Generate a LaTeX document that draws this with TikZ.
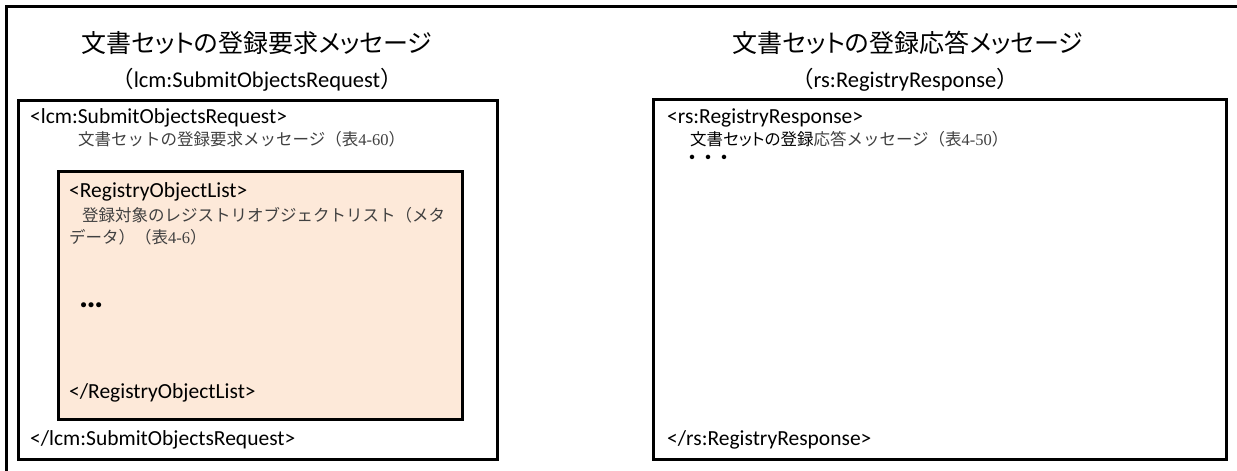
\documentclass[tikz,border=0pt]{standalone}
\usepackage{fontspec}
\setmainfont{Carlito}
\newfontfamily\jp{Noto Sans CJK JP}
\newfontfamily\jpt{Noto Sans CJK JP}[RawFeature=+palt]
\newfontfamily\numf{Liberation Serif}
\definecolor{peach}{HTML}{FDE9D9}
\definecolor{mincho}{HTML}{404040}
\tikzset{
  framebox/.style={draw=black, line width=3pt, inner sep=0pt, anchor=north west},
  titletext/.style={font=\jpt\fontsize{25}{29}\selectfont, inner sep=0pt},
  subtitletext/.style={font=\fontsize{22.5}{26}\selectfont, inner sep=0pt},
  tagtext/.style={anchor=west, inner sep=0pt, font=\fontsize{21.5}{25}\selectfont},
  desctext/.style={anchor=west, inner sep=0pt, text=mincho, font=\jp\fontsize{16.5}{19}\selectfont},
}
\begin{document}
\begin{tikzpicture}[x=1pt,y=-1pt]
\useasboundingbox (0,0) rectangle (1237,471);
\coordinate (fbl) at (6,471);
\coordinate (ftl) at (6,6);
\coordinate (ftr) at (1237,6);
\draw[line width=3pt] (fbl) -- (ftl) -- (ftr);

% titles
\node[titletext] (t1) at (257,43) {文書セットの登録要求メッセージ};
\node[subtitletext] (t1b) at (257,80) {{\jp （}lcm:SubmitObjectsRequest{\jp ）}};
\node[titletext] (t2) at (908,43) {文書セットの登録応答メッセージ};
\node[subtitletext] (t2b) at (905,80) {{\jp （}rs:RegistryResponse{\jp ）}};

% left box
\node[framebox, fill=white, minimum width=479pt, minimum height=359pt] (req) at (17,99) {};
\node[tagtext] (reqopen) at (30,118) {<lcm:SubmitObjectsRequest>};
\node[desctext] (reqdesc) at (78,139) {文書セットの登録要求メッセージ（表{\numf 4-60}）};
\node[framebox, fill=peach, minimum width=404pt, minimum height=248pt] (rol) at (57,170) {};
\node[tagtext] (rolopen) at (69,192) {<RegistryObjectList>};
\node[desctext] (roldesc1) at (82,215) {登録対象のレジストリオブジェクトリスト（メタ};
\node[desctext] (roldesc2) at (69,237) {データ）（表{\numf 4-6}）};
\node[tagtext, font=\bfseries\fontsize{34}{36}\selectfont] (roldots) at (79,305) {…};
\node[tagtext] (rolclose) at (69,393) {</RegistryObjectList>};
\node[tagtext] (reqclose) at (30,440) {</lcm:SubmitObjectsRequest>};

% right box
\node[framebox, fill=white, minimum width=573pt, minimum height=360pt] (res) at (652,98) {};
\node[tagtext] (resopen) at (667,118) {<rs:RegistryResponse>};
\node[desctext] (resdesc) at (690,139) {{\jpt\color{black}文書セットの登録}応答メッセージ（表{\numf 4-50}）};
\node[anchor=west, inner sep=0pt, font=\jp\bfseries\fontsize{16}{18}\selectfont] (resdots) at (684,159) {・・・};
\node[tagtext] (resclose) at (667,440) {</rs:RegistryResponse>};
\end{tikzpicture}
\end{document}
